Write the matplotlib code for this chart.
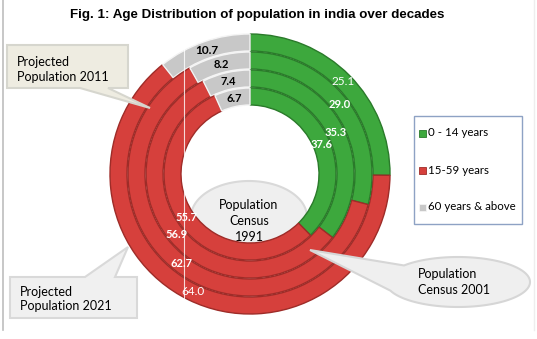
import numpy as np
import matplotlib
matplotlib.use("Agg")
import matplotlib.pyplot as plt
from matplotlib.patches import Polygon, Rectangle

# data, rings listed from outside to inside
years = ["2021", "2011", "2001", "1991"]
age_groups = ["0 - 14 years", "15-59 years", "60 years & above"]
share_0_14 = [25.1, 29.0, 35.3, 37.6]
share_15_59 = [64.0, 62.7, 56.9, 55.7]
share_60_plus = [10.7, 8.2, 7.4, 6.7]

colors = ["#3DA83D", "#D6403C", "#C8C8C8"]
edges = ["#2A7A2A", "#9E2C28", "#F4F4F4"]
label_colors = ["white", "white", "black"]

W, H = 537, 339
fig = plt.figure(figsize=(W / 100, H / 100), dpi=100)
ax = fig.add_axes([0, 0, 1, 1])

def Y(y):  # image row -> axes y (y up)
    return H - y

cx, cy = 250, Y(174)
outer_r = 140
ring_w = 18

# 1991 callout ellipse sits behind the rings
t = np.linspace(0, 2 * np.pi, 200)
ax.add_patch(Polygon(np.c_[249 + 58 * np.cos(t), Y(217) + 36 * np.sin(t)],
                     closed=True, fc="#EFEFEF", ec="#D9D9D9", lw=1.5, zorder=1))

for i, year in enumerate(years):
    vals = [share_0_14[i], share_15_59[i], share_60_plus[i]]
    r = outer_r - ring_w * i
    wedges, _ = ax.pie(vals, radius=r, center=(cx, cy), startangle=90,
                       counterclock=False, colors=colors, frame=True,
                       wedgeprops=dict(width=ring_w - 1, linewidth=1.0))
    for k, w in enumerate(wedges):
        w.set_edgecolor(edges[k])
        w.set_zorder(2)
        mid = np.deg2rad((w.theta1 + w.theta2) / 2)
        rr = r - ring_w / 2
        ax.text(cx + rr * np.cos(mid), cy + rr * np.sin(mid), "%.1f" % vals[k],
                ha="center", va="center", color=label_colors[k],
                fontsize=8.5 if i == 0 else 8,
                fontweight="normal" if (i == 0 and k < 2) else "bold",
                family="Lato", zorder=5)

ax.set_xlim(0, W)
ax.set_ylim(0, H)
ax.set_aspect("auto")
ax.axis("off")

# thin white artefact line across the rings
ax.plot([184, 184], [Y(40), Y(318)], color="white", lw=0.8, alpha=0.8, zorder=4)

# page borders
ax.plot([3, 3], [Y(0), Y(330)], color="#BDBDBD", lw=1.2, zorder=0)
ax.plot([534, 534], [Y(0), Y(330)], color="#EEEEEE", lw=1, zorder=0)

# title
ax.text(257, Y(15), "Fig. 1: Age Distribution of population in india over decades",
        ha="center", va="center", fontsize=9.6, fontweight="bold",
        family="Liberation Sans")

fs = 9
# callout: projected 2011
pts = [(7, 45), (128, 45), (128, 88), (108, 88), (150, 108), (80, 88), (7, 88)]
ax.add_patch(Polygon([(x, Y(y)) for x, y in pts], closed=True, fc="#EEECE1",
                     ec="#D6D6CE", lw=1.5, zorder=6))
ax.text(17, Y(62), "Projected", ha="left", va="center", fontsize=fs, family="Lato", zorder=7)
ax.text(17, Y(77), "Population 2011", ha="left", va="center", fontsize=fs, family="Lato", zorder=7)

# callout: projected 2021
pts = [(10, 277), (85, 277), (128, 247), (115, 277), (137, 277), (137, 318), (10, 318)]
ax.add_patch(Polygon([(x, Y(y)) for x, y in pts], closed=True, fc="#F0F0F0",
                     ec="#D9D9D9", lw=1.5, zorder=6))
ax.text(20, Y(292), "Projected", ha="left", va="center", fontsize=fs, family="Lato", zorder=7)
ax.text(20, Y(306), "Population 2021", ha="left", va="center", fontsize=fs, family="Lato", zorder=7)

# callout: census 1991 text
for txt, yy in [("Population", 205), ("Census", 221), ("1991", 237)]:
    ax.text(249, Y(yy), txt, ha="center", va="center", fontsize=fs, family="Lato", zorder=7)

# callout: census 2001 ellipse with pointer
ex, ey, ea, eb = 458, 282, 72, 25
ang = np.linspace(0, 2 * np.pi, 240)
keep = ~((ang > np.deg2rad(140)) & (ang < np.deg2rad(200)))
px = ex + ea * np.cos(ang)
py = ey - eb * np.sin(ang)
pts = []
for j in range(len(ang)):
    if keep[j]:
        pts.append((px[j], Y(py[j])))
    elif keep[j - 1]:
        pts.append((310, Y(250)))
ax.add_patch(Polygon(pts, closed=True, fc="#EFEFEF", ec="#D6D6D6", lw=1.5, zorder=6))
ax.text(418, Y(274), "Population", ha="left", va="center", fontsize=fs, family="Lato", zorder=7)
ax.text(418, Y(290), "Census 2001", ha="left", va="center", fontsize=fs, family="Lato", zorder=7)

# legend box
ax.add_patch(Rectangle((414, Y(224)), 108, 108, fc="white", ec="#8EA2C4", lw=1, zorder=6))
for k, (lab, yy) in enumerate(zip(age_groups, [133, 170, 207])):
    ax.add_patch(Rectangle((419, Y(yy) - 3.5), 7, 7, fc=colors[k], ec=edges[k], lw=0.6, zorder=7))
    ax.text(427.5, Y(yy), lab, ha="left", va="center", fontsize=8.3, family="Lato", zorder=7)

fig.savefig("out.png", dpi=100)
